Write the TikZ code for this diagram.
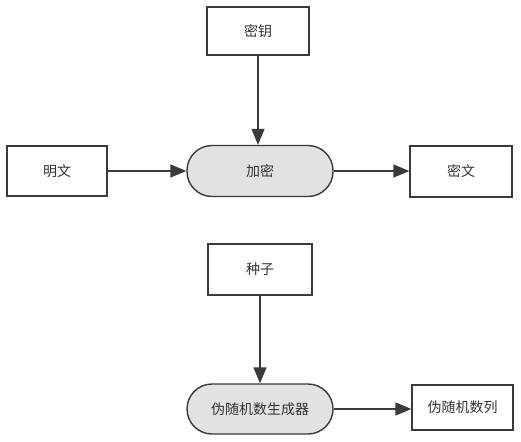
\documentclass[tikz,border=0pt]{standalone}
\usepackage{fontspec}
\setmainfont{Noto Sans CJK SC}
\usetikzlibrary{arrows.meta}
\definecolor{linec}{HTML}{3A3A3A}
\definecolor{pillfill}{HTML}{E2E2E2}
\definecolor{textc}{HTML}{333333}
\begin{document}
\begin{tikzpicture}[x=1pt,y=-1pt,
  every node/.style={font=\fontsize{14}{16}\selectfont, text=textc},
  boxnode/.style={draw=linec, line width=1.2pt, fill=white, minimum width=#1, inner sep=0pt},
  boxnode/.default=102pt,
  pill/.style={draw=linec, line width=1.4pt, fill=pillfill, rounded corners=25pt, inner sep=0pt, minimum width=146pt},
  conn/.style={draw=linec, line width=1.4pt, -{Triangle[length=16pt,width=13pt]}}]
\useasboundingbox (0,0) rectangle (521,441);
\node[boxnode=102pt, minimum height=48pt] (key) at (258,31) {密钥};
\node[pill, minimum height=51pt] (enc) at (260,171) {加密};
\node[boxnode=100pt, minimum height=50pt] (plain) at (57,171) {明文};
\node[boxnode=102pt, minimum height=51pt] (cipher) at (461,171.5) {密文};
\node[boxnode=104pt, minimum height=51pt] (seed) at (260,269.5) {种子};
\node[pill, minimum height=50pt] (prng) at (260,409) {伪随机数生成器};
\node[boxnode=101pt, minimum height=45pt] (seq) at (462.5,407.5) {伪随机数列};
\draw[conn] (key.south) -- (key.south |- enc.north);
\draw[conn] (plain) -- (enc);
\draw[conn] (enc.east) -- (enc.east -| cipher.west);
\draw[conn] (seed) -- (prng);
\draw[conn] (prng.east) -- (prng.east -| seq.west);
\end{tikzpicture}
\end{document}
